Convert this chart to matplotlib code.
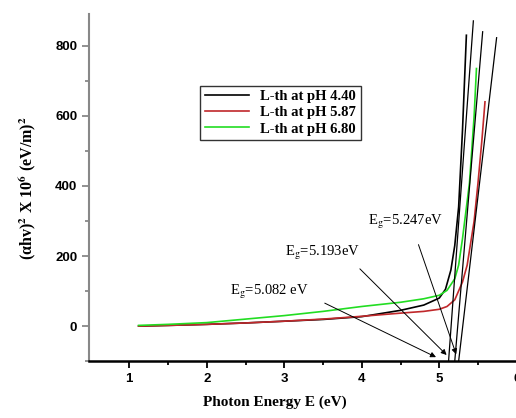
import numpy as np
import matplotlib
matplotlib.use('Agg')
import matplotlib.pyplot as plt

plt.rcParams['mathtext.fontset'] = 'stix'

# curves
x_44 = [1.12, 1.5, 2.0, 2.5, 3.0, 3.5, 4.0, 4.5, 4.8, 5.0, 5.08, 5.15, 5.2, 5.25, 5.3, 5.35]
y_44 = [0, 2, 5, 9, 14, 19, 27, 45, 60, 80, 105, 160, 230, 340, 560, 830]
x_587 = [1.12, 1.5, 2.0, 2.5, 3.0, 3.5, 4.0, 4.5, 4.8, 5.0, 5.1, 5.2, 5.3, 5.36, 5.45, 5.5, 5.55, 5.59]
y_587 = [0, 2, 5, 9, 14, 20, 28, 37, 42, 48, 56, 75, 126, 174, 300, 409, 530, 640]
x_680 = [1.12, 1.5, 2.0, 2.5, 3.0, 3.5, 4.0, 4.5, 4.8, 5.0, 5.1, 5.2, 5.25, 5.3, 5.39, 5.45, 5.48]
y_680 = [2, 5, 10, 20, 30, 42, 56, 68, 78, 88, 102, 135, 174, 250, 409, 600, 735]
labels = ['L-th at pH 4.40', 'L-th at pH 5.87', 'L-th at pH 6.80']
colors = ['black', '#c0282b', '#22dd22']

# tangent lines (bottom x, top x, top y)
tan_x0 = [5.12, 5.20, 5.25]
tan_x1 = [5.44, 5.56, 5.74]
tan_y1 = [871, 840, 823]

eg_text = ['E$_{\\rm g}$=5.082 eV', 'E$_{\\rm g}$=5.193eV', 'E$_{\\rm g}$=5.247eV']
eg_text_xy = [(2.30, 97), (3.01, 208), (4.08, 297)]
eg_arrow_from = [(3.49, 69), (3.95, 169), (4.72, 240)]
eg_arrow_to = [(4.99, -92), (5.12, -88), (5.23, -88)]

fig = plt.figure(figsize=(5.16, 4.18), dpi=100)
ax = fig.add_axes([0.1725, 0.136, 0.859, 0.830])

for xs, ys, c, lb in zip([x_44, x_587, x_680], [y_44, y_587, y_680], colors, labels):
    ax.plot(xs, ys, color=c, lw=1.2, label=lb)

for a, b, c in zip(tan_x0, tan_x1, tan_y1):
    ax.plot([a, b], [-100, c], color='black', lw=0.9)

for t, p, f, to in zip(eg_text, eg_text_xy, eg_arrow_from, eg_arrow_to):
    ax.text(p[0], p[1], t, fontsize=10.5, family='Liberation Serif', va='center')
    ax.annotate('', xy=to, xytext=f,
                arrowprops=dict(arrowstyle='-|>', color='black', lw=0.7, mutation_scale=8))

ax.set_xlim(0.48, 6.2)
ax.set_ylim(-100, 890)
ax.set_xticks([1, 2, 3, 4, 5, 6])
ax.set_xticks(np.arange(1.5, 6.1, 1.0), minor=True)
ax.set_yticks([0, 200, 400, 600, 800])
ax.set_yticks([-100, 100, 300, 500, 700], minor=True)

for s in ['top', 'right']:
    ax.spines[s].set_visible(False)
ax.spines['left'].set_color('#888888')
ax.spines['left'].set_linewidth(1.5)
ax.spines['bottom'].set_linewidth(1.8)
ax.tick_params(axis='y', which='both', colors='#888888', labelcolor='black', width=1.3)
ax.tick_params(axis='x', which='both', width=1.3)
ax.tick_params(which='major', length=5)
ax.tick_params(which='minor', length=3)
for lab in ax.get_xticklabels() + ax.get_yticklabels():
    lab.set_fontweight('bold')
    lab.set_fontsize(9.5)
    lab.set_family('Liberation Sans')

ax.set_xlabel('Photon Energy E (eV)', fontsize=11, fontweight='bold', family='Liberation Serif')
ax.set_ylabel('(αhv)$^{\\mathbf{2}}$ X 10$^{\\mathbf{6}}$ (eV/m)$^{\\mathbf{2}}$', fontsize=11.5,
              fontweight='bold', family='Liberation Serif')
ax.xaxis.set_label_coords(0.42, -0.1)
ax.yaxis.set_label_coords(-0.115, 0.5)

leg = ax.legend(loc='upper left', bbox_to_anchor=(0.235, 0.815), fancybox=False,
                edgecolor='black', handlelength=3, borderpad=0.3, labelspacing=0.2,
                prop={'family': 'Liberation Serif', 'weight': 'bold', 'size': 10.5})
leg.get_frame().set_linewidth(1.0)

fig.savefig('out.png', dpi=100)
